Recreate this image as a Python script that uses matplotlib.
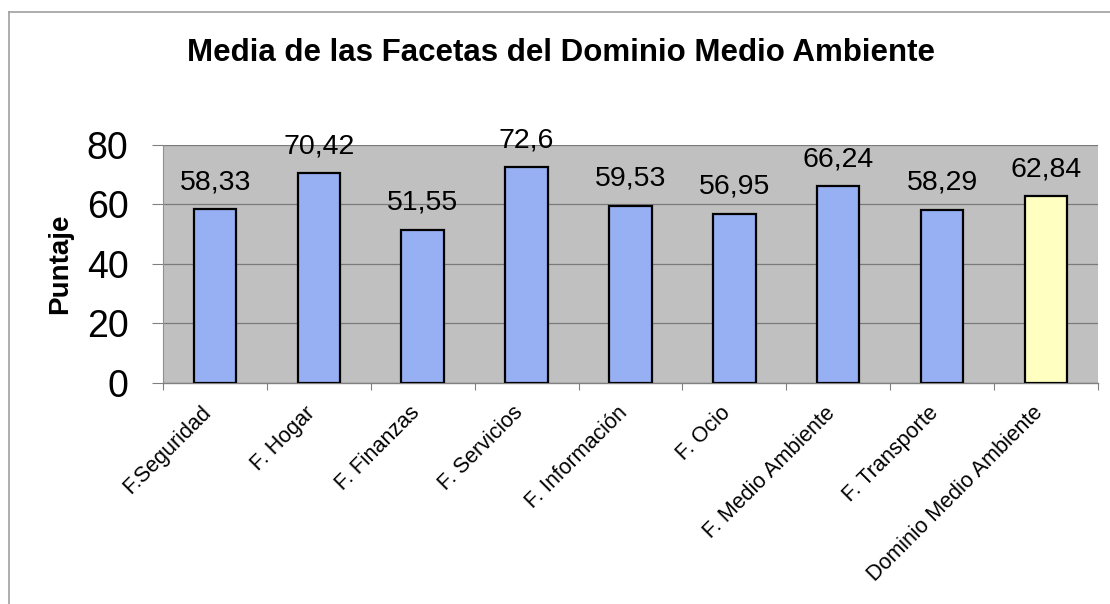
import numpy as np
import matplotlib.pyplot as plt
import matplotlib.transforms as mtransforms
from matplotlib.lines import Line2D

# data
categorias = ["F.Seguridad", "F. Hogar", "F. Finanzas", "F. Servicios", "F. Información",
              "F. Ocio", "F. Medio Ambiente", "F. Transporte", "Dominio Medio Ambiente"]
valores = [58.33, 70.42, 51.55, 72.6, 59.53, 56.95, 66.24, 58.29, 62.84]
etiquetas = ["58,33", "70,42", "51,55", "72,6", "59,53", "56,95", "66,24", "58,29", "62,84"]
colores = ["#97B0F4"] * 8 + ["#FFFFC2"]

plt.rcParams['font.family'] = ['Liberation Sans', 'DejaVu Sans']

fig = plt.figure(figsize=(11.1, 6.04), dpi=100)
ax = fig.add_axes([0.147, 0.366, 0.842, 0.394])

x = np.arange(len(categorias))
ax.bar(x, valores, width=0.41, color=colores, edgecolor="black", linewidth=1.6, zorder=3)

for xi, v, t in zip(x, valores, etiquetas):
    ax.annotate(t, (xi, v), xytext=(0, 10), textcoords="offset points",
                ha="center", va="bottom", fontsize=20.5)

ax.set_xlim(-0.5, len(categorias) - 0.5)
ax.set_ylim(0, 80)
ax.set_facecolor("#C0C0C0")
ax.set_yticks([0, 20, 40, 60, 80])
ax.tick_params(axis="y", labelsize=27, length=8, width=0.8, color="#808080", pad=17)
ax.yaxis.grid(True, color="#7A7A7A", linewidth=0.9, zorder=1)

ax.set_xticks(x)
ax.set_xticklabels(categorias, rotation=45, ha="right", rotation_mode="anchor", fontsize=15.5)
ax.tick_params(axis="x", which="major", length=0, pad=14)
# desplazar un poco las etiquetas a la izquierda
desplaza = mtransforms.ScaledTranslation(-14 / 100, 0, fig.dpi_scale_trans)
for lab in ax.get_xticklabels():
    lab.set_transform(lab.get_transform() + desplaza)
ax.set_xticks(np.arange(len(categorias) + 1) - 0.5, minor=True)
ax.tick_params(axis="x", which="minor", length=5, width=0.8, color="#808080")

for s in ["top", "right"]:
    ax.spines[s].set_visible(False)
ax.spines["left"].set_color("#909090")
ax.spines["bottom"].set_color("#808080")
ax.spines["bottom"].set_linewidth(1.0)

ax.set_ylabel("Puntaje", fontsize=20, fontweight="bold")
ax.yaxis.set_label_coords(-0.096, 0.5)

fig.text(0.505, 0.912, "Media de las Facetas del Dominio Medio Ambiente",
         ha="center", va="center", fontsize=22.5, fontweight="bold")

# marco exterior (solo izquierda y arriba visibles)
fig.add_artist(Line2D([0.008, 0.008], [0.0, 0.98], color="#A0A0A0", linewidth=1.2))
fig.add_artist(Line2D([0.008, 1.0], [0.98, 0.98], color="#A0A0A0", linewidth=1.2))

fig.savefig("out.png", dpi=100)
